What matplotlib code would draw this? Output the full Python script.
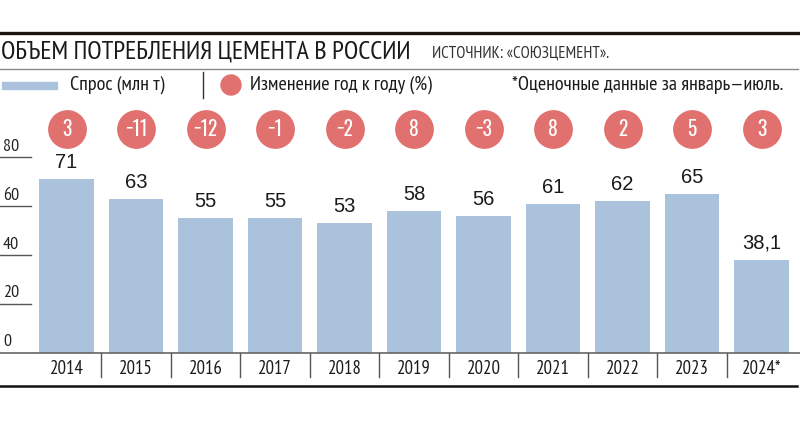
import matplotlib.pyplot as plt
from matplotlib.lines import Line2D
import matplotlib.patches as mpatches

# данные
years = ["2014", "2015", "2016", "2017", "2018", "2019", "2020", "2021", "2022", "2023", "2024*"]
demand = [71, 63, 55, 55, 53, 58, 56, 61, 62, 65, 38.1]
demand_labels = ["71", "63", "55", "55", "53", "58", "56", "61", "62", "65", "38,1"]
yoy = ["3", "−11", "−12", "−1", "−2", "8", "−3", "8", "2", "5", "3"]
yticks = [0, 20, 40, 60, 80]

BAR = "#abc2dd"
RED = "#e1716f"
NARROW = ["PT Sans Narrow", "DejaVu Sans"]
TIGHT = ["Oswald", "PT Sans Narrow", "DejaVu Sans"]
REG = ["Liberation Sans", "DejaVu Sans"]

W, H = 800, 421
fig = plt.figure(figsize=(W / 100, H / 100), dpi=100)


def fx(px):
    return px / W


def fy(py):
    return 1 - py / H


# оси: 0 на пикселе 352.7, 2.44 px на единицу
y0_px, top_px = 352.7, 100
ppu = 2.44
ax = fig.add_axes([0, fy(y0_px), 1, (y0_px - top_px) / H])
ax.set_xlim(-66.5 / 69.5, (W - 66.5) / 69.5)
ax.set_ylim(0, (y0_px - top_px) / ppu)
ax.axis("off")

x = list(range(len(years)))
ax.bar(x, demand, width=0.79, color=BAR, zorder=2)
for i, v in enumerate(demand):
    ax.text(i, v + 3, demand_labels[i], ha="center", va="bottom", fontsize=14.5,
            family=REG, color="#1a1a1a")

# круги с изменениями
circ_y = (y0_px - 129) / ppu
ax.scatter(x, [circ_y] * len(x), s=780, color=RED, clip_on=False, zorder=3, linewidths=0)
for i, t in enumerate(yoy):
    ax.text(i, circ_y, t, ha="center", va="center", color="white", fontsize=14,
            family=TIGHT, fontweight="light", zorder=4)

# подписи оси Y
for t in yticks[1:]:
    ax.plot([-0.957, -0.957 + 31 / 69.5], [t, t], color="#555555", lw=1, clip_on=False)
for t in yticks:
    ax.text(-0.957 + 3 / 69.5, t + 1.0, str(t), ha="left", va="bottom", fontsize=13,
            family=NARROW, color="#222222")

# базовая линия, годы, разделители
fig.add_artist(Line2D([0, 1], [fy(353), fy(353)], color="#666666", lw=1.2))
for i, yr in enumerate(years):
    ax.text(i, -(369 - y0_px) / ppu, yr, ha="center", va="center", fontsize=13.5,
            family=NARROW, color="#1a1a1a", clip_on=False)
    if i < len(years) - 1:
        ax.plot([i + 0.5, i + 0.5], [0, -(377 - y0_px) / ppu], color="#555555", lw=1,
                clip_on=False)
fig.add_artist(Line2D([0, fx(797)], [fy(386), fy(386)], color="#111111", lw=1.8))

# шапка
fig.add_artist(Line2D([0, fx(798)], [fy(32.5), fy(32.5)], color="#1a1410", lw=2.4))
fig.text(fx(1), fy(52), "ОБЪЕМ ПОТРЕБЛЕНИЯ ЦЕМЕНТА В РОССИИ", ha="left", va="center",
         fontsize=18.8, family=NARROW, color="#1a1a1a")
fig.text(fx(432), fy(54), "ИСТОЧНИК: «СОЮЗЦЕМЕНТ».", ha="left", va="center",
         fontsize=12, family=NARROW, color="#333333")
fig.add_artist(Line2D([0, fx(798)], [fy(68.5), fy(68.5)], color="#888888", lw=1))

# легенда
fig.add_artist(mpatches.Rectangle((fx(2), fy(89)), fx(55), 7 / H, color=BAR,
                                  transform=fig.transFigure))
fig.text(fx(70), fy(85), "Спрос (млн т)", ha="left", va="center", fontsize=14.5,
         family=NARROW, color="#1a1a1a")
fig.add_artist(Line2D([fx(203), fx(203)], [fy(72), fy(98)], color="#333333", lw=1))
fig.add_artist(mpatches.Ellipse((fx(231), fy(85)), 20 / W, 20 / H, color=RED,
                                transform=fig.transFigure))
fig.text(fx(250), fy(85), "Изменение год к году (%)", ha="left", va="center", fontsize=14.5,
         family=NARROW, color="#1a1a1a")
fig.text(fx(512), fy(85), "*Оценочные данные за январь—июль.", ha="left", va="center",
         fontsize=14.5, family=NARROW, color="#1a1a1a")

fig.savefig("out.png", dpi=100, facecolor="white")
